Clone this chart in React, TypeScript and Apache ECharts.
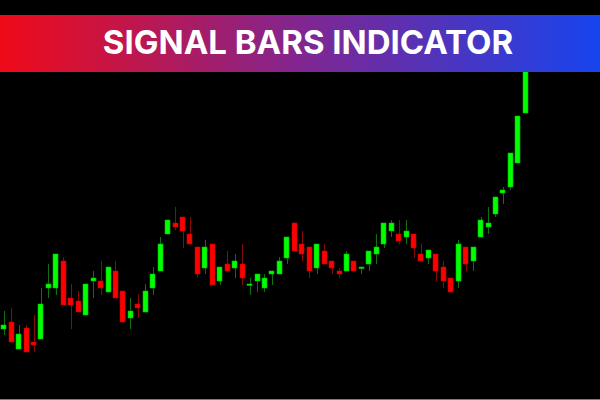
import React, { useEffect, useRef } from "react";
import * as echarts from "echarts";

const titleText = "SIGNAL BARS INDICATOR";

const opens = [71, 78, 51, 72, 58, 61, 112, 112, 139, 102, 99, 85, 119, 119, 108, 129, 109, 82, 96, 88, 112, 129, 166, 177, 183, 166, 153, 132, 156, 119, 136, 132, 136, 115, 119, 112, 126, 126, 142, 177, 156, 153, 132, 149, 139, 129, 129, 139, 132, 136, 146, 156, 169, 166, 163, 166, 146, 142, 146, 133, 122, 119, 153, 139, 163, 173, 186, 207, 213, 237, 287];
const closes = [75, 58, 66, 48, 55, 96, 116, 146, 95, 95, 88, 116, 122, 112, 133, 102, 78, 89, 92, 109, 126, 156, 180, 173, 169, 156, 126, 153, 115, 133, 129, 139, 122, 116, 126, 122, 129, 139, 163, 149, 146, 129, 156, 136, 132, 126, 146, 129, 133, 149, 153, 177, 177, 159, 169, 152, 139, 150, 129, 119, 108, 156, 136, 153, 180, 177, 203, 210, 247, 284, 345];
const highs = [89, 92, 75, 75, 85, 112, 136, 146, 143, 116, 109, 116, 129, 139, 133, 139, 109, 102, 106, 116, 133, 163, 180, 193, 183, 183, 153, 160, 156, 133, 149, 146, 156, 122, 126, 126, 129, 143, 163, 177, 169, 153, 156, 156, 139, 132, 149, 139, 133, 149, 166, 177, 180, 180, 180, 166, 156, 150, 146, 139, 122, 160, 153, 153, 183, 193, 203, 213, 247, 284, 350];
const lows = [65, 58, 51, 48, 48, 61, 102, 105, 95, 71, 88, 85, 102, 105, 108, 102, 78, 71, 82, 88, 105, 129, 166, 170, 152, 156, 123, 126, 115, 115, 129, 122, 115, 105, 108, 108, 115, 126, 136, 149, 139, 122, 126, 136, 126, 122, 129, 129, 126, 129, 136, 152, 163, 156, 156, 142, 139, 136, 119, 112, 108, 112, 129, 129, 163, 166, 183, 196, 210, 237, 287];
const categories = opens.map((_, i) => String(i + 1));

export default function App() {
  const ref = useRef<HTMLDivElement>(null);
  useEffect(() => {
    document.body.style.margin = "0";
    document.body.style.background = "#000";
    const chart = echarts.init(ref.current!, null, { renderer: "svg" });
    const data = opens.map((o, i) => [i, o, closes[i], lows[i], highs[i]]);
    chart.setOption({
      animation: false,
      backgroundColor: "#000000",
      grid: { left: -1.4, right: 71, top: 0, bottom: 0 },
      xAxis: { type: "category", data: categories, show: false, boundaryGap: true },
      yAxis: { type: "value", min: 0, max: 400, show: false },
      series: [
        {
          type: "custom",
          data,
          encode: { x: 0, y: [1, 2, 3, 4] },
          renderItem: (params: any, api: any) => {
            const idx = api.value(0);
            const o = api.value(1);
            const c = api.value(2);
            const l = api.value(3);
            const h = api.value(4);
            const pO = api.coord([idx, o]);
            const pC = api.coord([idx, c]);
            const pL = api.coord([idx, l]);
            const pH = api.coord([idx, h]);
            const x = pO[0];
            const up = c >= o;
            const top = Math.min(pO[1], pC[1]);
            let hgt = Math.abs(pO[1] - pC[1]);
            if (hgt < 1.5) hgt = 1.5;
            const bw = 5;
            const wx = Math.round(x) + 0.5;
            return {
              type: "group",
              children: [
                {
                  type: "line",
                  shape: { x1: wx, y1: pH[1], x2: wx, y2: pL[1] },
                  style: { stroke: up ? "#107010" : "#8a0a0a", lineWidth: 1 },
                },
                {
                  type: "rect",
                  shape: { x: Math.round(x - bw / 2), y: top, width: bw, height: hgt },
                  style: { fill: up ? "#00ff00" : "#ff0000", stroke: up ? "#00b800" : "#c00000", lineWidth: 0.6 },
                },
              ],
            };
          },
        },
      ],
      graphic: [
        {
          type: "line",
          z: 50,
          shape: { x1: 0, y1: 399.5, x2: 600, y2: 399.5 },
          style: { stroke: "#7a7a7a", lineWidth: 1 },
        },
        {
          type: "rect",
          z: 100,
          shape: { x: 0, y: 15, width: 600, height: 57 },
          style: {
            fill: new echarts.graphic.LinearGradient(0, 0, 1, 0, [
              { offset: 0, color: "#f00a18" },
              { offset: 0.5, color: "#812690" },
              { offset: 1, color: "#1744ee" },
            ]),
          },
        },
        {
          type: "text",
          z: 101,
          x: 308,
          y: 42,
          style: {
            text: titleText,
            fill: "#ffffff",
            font: "bold 33px Inter",
            textAlign: "center",
            textVerticalAlign: "middle",
          },
        },
      ],
    });
    return () => chart.dispose();
  }, []);
  return (
    <div
      ref={ref}
      style={{ position: "fixed", left: 0, top: 0, width: 600, height: 400, background: "#000" }}
    />
  );
}
